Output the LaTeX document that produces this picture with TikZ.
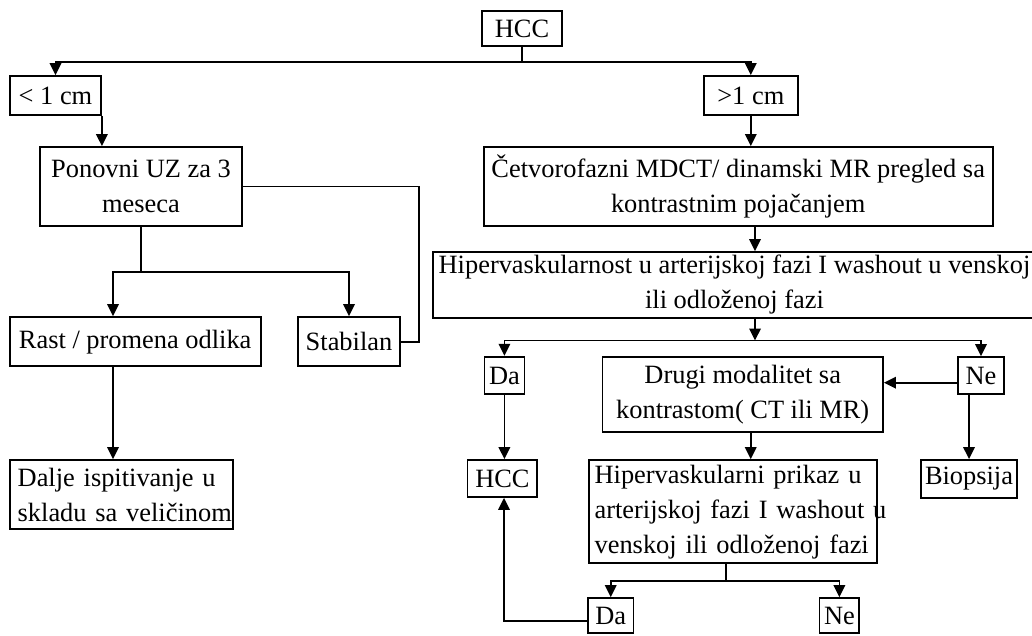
\documentclass[tikz,border=0pt]{standalone}
\usepackage{fontspec}
\setmainfont{Liberation Serif}
\usetikzlibrary{arrows.meta}
\newcommand\fnt{\fontsize{26.4pt}{35pt}\selectfont}
\begin{document}
\begin{tikzpicture}[x=1pt,y=-1pt,
  box/.style={draw, line width=1.8pt, inner sep=0pt, font=\fnt, align=center},
  con/.style={line width=1.8pt},
  arr/.style={con, -{Triangle[width=11.5pt,length=12pt]}}]
\useasboundingbox (0,0) rectangle (1032,635);
\clip (0,0) rectangle (1032,635);
% nodes
\node[box, minimum width=80pt, minimum height=35pt] (hcc) at (522,28.5) {HCC};
\node[box, minimum width=91pt, minimum height=39pt] (lt) at (55.5,95.5) {< 1 cm};
\node[box, minimum width=94.4pt, minimum height=39pt] (gt) at (750.8,95.5) {>1 cm};
\node[box, minimum width=202.6pt, minimum height=79pt] (pon) at (141,186.5) {Ponovni UZ za 3\\meseca};
\node[box, minimum width=509pt, minimum height=79pt] (cet) at (738.2,186.5) {Četvorofazni MDCT/ dinamski MR pregled sa\\kontrastnim pojačanjem};
\node[box, minimum width=603pt, minimum height=66pt] (hv) at (734.5,285) {Hipervaskularnost u arterijskoj fazi I washout u venskoj\\ili odloženoj fazi};
\node[box, minimum width=251pt, minimum height=49.3pt] (rast) at (135.2,341.7) {Rast / promena odlika};
\node[box, minimum width=102pt, minimum height=49.3pt] (stab) at (349,341.7) {Stabilan};
\node[box, text width=223pt, align=left, minimum height=69.3pt] (dal) at (121.2,494.7) {\mbox{\hspace{8pt}Dalje ispitivanje u}\\\mbox{\hspace{8pt}skladu sa veličinom}};
\node[box, minimum width=40pt, minimum height=37.6pt] (da) at (504.4,375.5) {Da};
\node[box, minimum width=46pt, minimum height=37.3pt] (ne) at (981,375.7) {Ne};
\node[box, minimum width=280.6pt, minimum height=75pt] (dru) at (742.7,394.2) {Drugi modalitet sa\\kontrastom( CT ili MR)};
\node[box, minimum width=69.8pt, minimum height=37pt] (hcc2) at (502.4,478.5) {HCC};
\node[box, text width=288pt, align=left, minimum height=103.3pt] (hv2) at (733,511.7) {\mbox{\hspace{5.6pt}Hipervaskularni prikaz u}\\\mbox{\hspace{5.6pt}arterijskoj fazi I washout u}\\\mbox{\hspace{5.6pt}venskoj ili odloženoj fazi}};
\node[box, minimum width=96pt, minimum height=37.7pt] (bio) at (969,478.8) {Biopsija};
\node[box, minimum width=45.5pt, minimum height=35.3pt] (da2) at (610.7,615.7) {Da};
\node[box, minimum width=39.8pt, minimum height=35.3pt] (ne2) at (839.4,615.7) {Ne};
% junction coordinates
\coordinate (top) at (522,62);
\coordinate (s1) at (141,272.3);
\coordinate (cx) at (113,0);
\coordinate (lp) at (419,0);
\coordinate (s2) at (755,340.5);
\coordinate (s3) at (726,581);
\coordinate (bx) at (504,0);
% connectors
\draw[con] (hcc.south) -- (hcc.south |- top);
\draw[arr] (hcc.south |- top) -| (lt.north);
\draw[arr] (hcc.south |- top) -| (gt.north);
\draw[arr] (lt.south east) -- (lt.south east |- pon.north);
\draw[arr] (gt.south) -- (gt.south |- cet.north);
\draw[con] (pon.south) -- (s1);
\draw[arr] (s1) -| (rast.north -| cx);
\draw[arr] (s1) -| (stab.north);
\draw[arr] (rast.south -| cx) -- (dal.north -| cx);
\draw[con] (pon.east) -| (lp |- stab.east) -- (stab.east);
\draw[arr] (cet.south -| s2) -- (hv.north -| s2);
\draw[arr] (hv.south -| s2) -- (s2);
\draw[arr] (s2) -| (da.north);
\draw[arr] (s2) -| (ne.north);
\draw[arr] ([yshift=-7pt]ne.west) -- ([yshift=-7pt]ne.west -| dru.east);
\draw[arr] (bio.north |- ne.south) -- (bio.north);
\draw[arr] (da.south) -- (da.south |- hcc2.north);
\draw[arr] ([xshift=8pt]dru.south) -- ([xshift=8pt]dru.south |- hv2.north);
\draw[con] (hv2.south -| s3) -- (s3);
\draw[arr] (s3) -| (da2.north);
\draw[arr] (s3) -| (ne2.north);
\draw[arr] ([yshift=-5pt]da2.west) -| (bx |- hcc2.south);
\end{tikzpicture}
\end{document}
